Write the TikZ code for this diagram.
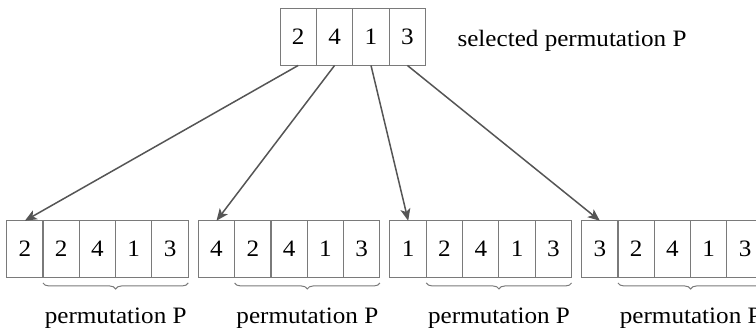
\documentclass[tikz,border=0pt]{standalone}
\usepackage{fontspec}
\setmainfont{Liberation Serif}[FakeStretch=1.07]
\usetikzlibrary{arrows.meta,decorations.pathreplacing}
\definecolor{boxgray}{HTML}{7A7A7A}
\definecolor{arrowgray}{HTML}{555555}
\begin{document}
\begin{tikzpicture}[x=1pt,y=-1pt,
  cell/.style={draw=boxgray,line width=1pt,minimum width=36.4pt,minimum height=56.5pt,
    inner sep=0pt,outer sep=0pt,font=\fontsize{23.5}{28}\selectfont},
  lbl/.style={inner sep=0pt,outer sep=0pt,font=\fontsize{23.5}{28}\selectfont},
  arr/.style={draw=arrowgray,line width=1.5pt,-{Stealth[length=12pt,width=10pt,inset=3pt]}},
  brc/.style={draw=boxgray,line width=1pt,decorate,decoration={brace,amplitude=6pt,mirror}}]
\useasboundingbox (0,0) rectangle (756,329);
% top permutation
\foreach \v [count=\i] in {2,4,1,3}{
  \node[cell] (t\i) at ({280+18.2+36.4*(\i-1)},37.2) {\v};
}
\node[lbl,anchor=base west] (top) at (457.5,46.7) {selected permutation P};
% bottom groups
\foreach \f [count=\k] in {2,4,1,3}{
  \pgfmathsetmacro{\xo}{6.7+191.67*(\k-1)}
  \node[cell] (g\k c1) at ({\xo+18.15},249) {\f};
  \foreach \v [count=\j from 2] in {2,4,1,3}{
    \node[cell] (g\k c\j) at ({\xo+18.15+36.3*(\j-1)},249) {\v};
  }
  \draw[brc] ([yshift=-5.7pt]g\k c2.south west) -- ([yshift=-5.7pt]g\k c5.south east);
  \node[lbl,anchor=base] (l\k) at ({\xo+109},323.3) {permutation P};
}
% arrows
\foreach \k in {1,2,3,4}{
  \draw[arr] (t\k.south) -- (g\k c1.north);
}
\end{tikzpicture}
\end{document}
